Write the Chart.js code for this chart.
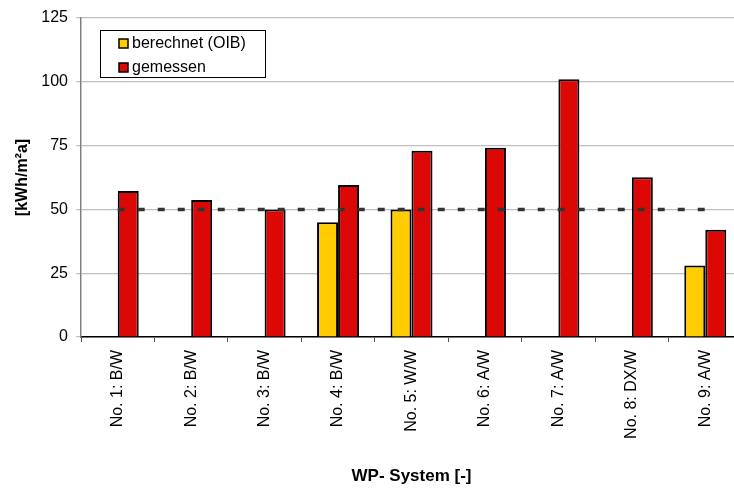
<!DOCTYPE html>
<html>
<head>
<meta charset="utf-8">
<script src="https://cdn.jsdelivr.net/npm/chart.js@4/dist/chart.umd.min.js"></script>
<style>
  html, body { margin: 0; padding: 0; background: #fff; overflow: hidden; }
  canvas { display: block; }
</style>
</head>
<body>
<canvas id="canvas" width="742" height="488"></canvas>
<script>
// Heat pump systems and their yearly heating energy per m²
var systems = ['No. 1: B/W', 'No. 2: B/W', 'No. 3: B/W', 'No. 4: B/W', 'No. 5: W/W',
               'No. 6: A/W', 'No. 7: A/W', 'No. 8: DX/W', 'No. 9: A/W'];
var berechnet = [null, null, null, 45, 50, null, null, null, 28];
var gemessen = [57.2, 53.7, 50, 59.6, 73, 74.2, 101, 62.6, 42];
var grenzwert = [50, 50, 50, 50, 50, 50, 50, 50, 50];
var yTicks = [0, 25, 50, 75, 100, 125];

var FONT = '"Liberation Sans", Arial, sans-serif';

// Legend box inside the plot, only for the two bar series
var boxLegend = {
    id: 'boxLegend',
    afterDraw: function(chart) {
        var ctx = chart.ctx;
        var x = 100, y = 30, w = 165, h = 47;
        ctx.save();
        ctx.fillStyle = '#fff';
        ctx.fillRect(x, y, w, h);
        ctx.strokeStyle = '#000';
        ctx.lineWidth = 1;
        ctx.strokeRect(x + 0.5, y + 0.5, w, h);
        ctx.font = '16px ' + FONT;
        ctx.textBaseline = 'middle';
        var row = 0;
        chart.data.datasets.forEach(function(ds) {
            if (ds.type === 'line') return;
            var cy = y + 13 + row * 24;
            ctx.fillStyle = ds.backgroundColor;
            ctx.fillRect(119, cy - 4, 9, 9);
            ctx.strokeStyle = '#000';
            ctx.lineWidth = 1.5;
            ctx.strokeRect(119, cy - 4, 9, 9);
            ctx.fillStyle = '#000';
            ctx.fillText(ds.label, 132, cy + 1);
            row++;
        });
        ctx.restore();
    }
};

var ctx = document.getElementById('canvas').getContext('2d');
var chart = new Chart(ctx, {
    type: 'bar',
    data: {
        labels: systems,
        datasets: [{
            label: 'berechnet (OIB)',
            data: berechnet,
            backgroundColor: '#ffcc00',
            borderColor: '#000',
            borderWidth: 2,
            order: 1
        }, {
            label: 'gemessen',
            data: gemessen,
            backgroundColor: '#dc0806',
            borderColor: '#000',
            borderWidth: 2,
            order: 1
        }, {
            type: 'line',
            label: 'Grenzwert',
            data: grenzwert,
            borderColor: '#333',
            borderWidth: 3.5,
            borderDash: [7, 13],
            pointRadius: 0,
            fill: false,
            order: 0
        }]
    },
    options: {
        responsive: false,
        animation: false,
        categoryPercentage: 0.572,
        barPercentage: 1.0,
        layout: { padding: { top: 18, right: 0, bottom: 0, left: 0 } },
        plugins: {
            legend: { display: false },
            tooltip: { enabled: false }
        },
        scales: {
            x: {
                grid: {
                    offset: true,
                    drawOnChartArea: false,
                    tickLength: 5,
                    color: '#555'
                },
                border: { color: '#000', width: 1.5 },
                ticks: {
                    color: '#000',
                    font: { family: FONT, size: 16 },
                    minRotation: 90,
                    maxRotation: 90,
                    padding: 8,
                    autoSkip: false
                },
                title: {
                    display: true,
                    text: 'WP- System [-]',
                    color: '#000',
                    font: { family: FONT, size: 17, weight: 'bold' },
                    padding: { top: 0, bottom: 1 }
                },
                afterFit: function(scale) {
                    scale.height = 151;
                    scale.paddingLeft = 0;
                    scale.paddingRight = 0;
                }
            },
            y: {
                min: 0,
                max: 125,
                afterBuildTicks: function(scale) {
                    scale.ticks = yTicks.map(function(v) { return { value: v }; });
                },
                grid: {
                    color: '#c0c0c0',
                    lineWidth: 1.2,
                    tickLength: 5
                },
                border: { color: '#808080', width: 1.5 },
                ticks: {
                    color: '#000',
                    font: { family: FONT, size: 16 },
                    padding: 8
                },
                title: {
                    display: true,
                    text: '[kWh/m²a]',
                    color: '#000',
                    font: { family: FONT, size: 16, weight: 'bold' },
                    padding: { top: 13, bottom: 0 }
                },
                afterFit: function(scale) {
                    scale.width = 81;
                    scale.paddingTop = 0;
                    scale.paddingBottom = 0;
                }
            }
        }
    },
    plugins: [boxLegend]
});
</script>
</body>
</html>
